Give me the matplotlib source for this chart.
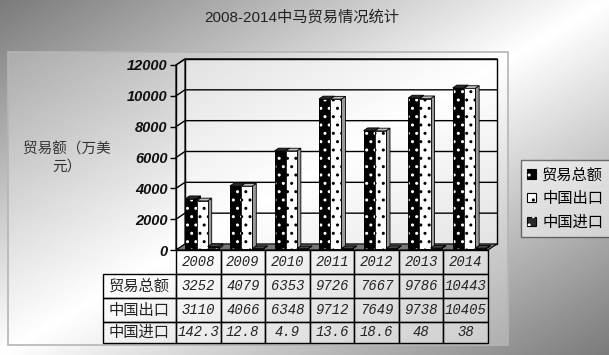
import numpy as np
import matplotlib
matplotlib.use('Agg')
import matplotlib.pyplot as plt
from matplotlib.patches import Rectangle, Polygon, Patch
import matplotlib.transforms as mtransforms
from matplotlib.legend_handler import HandlerTuple

# ---------------- data ----------------
years = ['2008', '2009', '2010', '2011', '2012', '2013', '2014']
series_names = ['贸易总额', '中国出口', '中国进口']
total = [3252, 4079, 6353, 9726, 7667, 9786, 10443]
export = [3110, 4066, 6348, 9712, 7649, 9738, 10405]
imports = [142.3, 12.8, 4.9, 13.6, 18.6, 48, 38]
yticks = [0, 2000, 4000, 6000, 8000, 10000, 12000]
title = '2008-2014中马贸易情况统计'
ylabel = '贸易额（万美\n元）'

CJK = ['Noto Sans CJK SC', 'DejaVu Sans']
plt.rcParams['font.family'] = CJK

W, H = 609, 355
fig = plt.figure(figsize=(W / 100, H / 100), dpi=100)


def fx(x):
    return x / W


def fy(y):
    return 1 - y / H


# ---------------- background gradient ----------------
bg = fig.add_axes([0, 0, 1, 1], zorder=-10)
xx, yy = np.meshgrid(np.linspace(0, 1, W), np.linspace(0, 1, H))
u = xx + yy - 1
g = 1 - 0.52 * np.abs(u)
bg.imshow(g, cmap='gray', vmin=0, vmax=1, extent=[0, W, H, 0],
          aspect='auto', interpolation='bilinear')
bg.set_xlim(0, W)
bg.set_ylim(H, 0)
bg.axis('off')
bg.add_patch(Rectangle((7.5, 51.5), 500, 293, facecolor=(1, 1, 1, 0.25),
                       edgecolor='#b5b5b5', lw=1.2))

# ---------------- main axes ----------------
ax = fig.add_axes([fx(176), fy(250), fx(488) - fx(176), fy(65) - fy(250)])
n = len(years)
ymax = yticks[-1]
ax.set_xlim(-0.5, n - 0.5)
ax.set_ylim(0, ymax)
ax.patch.set_visible(False)
for s in ['top', 'right', 'bottom']:
    ax.spines[s].set_visible(False)
ax.spines['left'].set_color('black')
ax.spines['left'].set_linewidth(1)
ax.set_xticks([])
ax.set_yticks(yticks)
ax.tick_params(axis='y', direction='out', length=4, width=1, pad=2)
for lab in ax.get_yticklabels():
    lab.set_fontfamily('Liberation Sans')
    lab.set_fontweight('bold')
    lab.set_fontstyle('italic')
    lab.set_fontsize(10.5)
    lab.set_color('#111111')

DX = 9 / 44.57          # depth in category units
DY = 6 * ymax / 185.0   # depth in value units

# walls
ax.add_patch(Polygon([(-0.5 + DX, DY), (n - 0.5 + DX, DY), (n - 0.5 + DX, ymax + DY),
                      (-0.5 + DX, ymax + DY)], closed=True, facecolor=(1, 1, 1, 0.45),
                     edgecolor='black', lw=1, clip_on=False, zorder=1))
ax.add_patch(Polygon([(-0.5, 0), (-0.5 + DX, DY), (-0.5 + DX, ymax + DY), (-0.5, ymax)],
                     closed=True, facecolor=(1, 1, 1, 0.3), edgecolor='black', lw=0.8,
                     clip_on=False, zorder=1))
for v in yticks[1:]:
    ax.plot([-0.5, -0.5 + DX, n - 0.5 + DX], [v, v + DY, v + DY], color='black',
            lw=1, clip_on=False, zorder=1.5)
# floor
ax.add_patch(Polygon([(-0.5, 0), (n - 0.5, 0), (n - 0.5 + DX, DY), (-0.5 + DX, DY)],
                     closed=True, facecolor='#777777', edgecolor='black', lw=0.8,
                     clip_on=False, zorder=2))

# bars
BW = 0.25
start = -0.33
f0, f1 = 0.2, 0.65
styles = [dict(face='black', dot='white', side='#1a1a1a', top='#2a2a2a'),
          dict(face='white', dot='black', side='#999999', top='#bcbcbc'),
          dict(face='#2b2b2b', dot='white', side='#555555', top='#444444')]
series = [total, export, imports]
ddx = (f1 - f0) * DX
ddy = (f1 - f0) * DY
for i in range(n):
    for s, (vals, st) in enumerate(zip(series, styles)):
        v = vals[i]
        x0 = i + start + s * BW + f0 * DX
        y0 = f0 * DY
        ax.add_patch(Polygon([(x0 + BW, y0), (x0 + BW + ddx, y0 + ddy),
                              (x0 + BW + ddx, y0 + v + ddy), (x0 + BW, y0 + v)],
                             closed=True, fc=st['side'], ec='black', lw=0.6,
                             clip_on=False, zorder=3))
        ax.add_patch(Polygon([(x0, y0 + v), (x0 + BW, y0 + v), (x0 + BW + ddx, y0 + v + ddy),
                              (x0 + ddx, y0 + v + ddy)], closed=True, fc=st['top'],
                             ec='black', lw=0.6, clip_on=False, zorder=3))
        ax.add_patch(Rectangle((x0, y0), BW, v, fc=st['face'], ec='none',
                               clip_on=False, zorder=3))
        ax.add_patch(Rectangle((x0, y0), BW, v, fc='none', ec=st['dot'], lw=0,
                               hatch='..', clip_on=False, zorder=3))
        ax.add_patch(Rectangle((x0, y0), BW, v, fc='none', ec='black', lw=0.6,
                               clip_on=False, zorder=3))

# ---------------- data table ----------------
trans = mtransforms.blended_transform_factory(ax.transData, ax.transAxes)
row_px = [250, 274, 298, 322, 343]
row_edges = [(250 - p) / 185.0 for p in row_px]
LW = (176 - 103) / 44.57
num_font = dict(family='Liberation Mono', style='italic', size=10, color='#222222')
for i, yr in enumerate(years):
    t, b = row_edges[0], row_edges[1]
    ax.add_patch(Rectangle((i - 0.5, b), 1, t - b, transform=trans, fc=(1, 1, 1, 0.35),
                           ec='black', lw=1, clip_on=False, zorder=4))
    ax.text(i, (t + b) / 2, yr, transform=trans, ha='center', va='center',
            clip_on=False, zorder=5, **num_font)
for r, (name, vals) in enumerate(zip(series_names, series)):
    t, b = row_edges[r + 1], row_edges[r + 2]
    ax.add_patch(Rectangle((-0.5 - LW, b), LW, t - b, transform=trans, fc=(1, 1, 1, 0.2),
                           ec='black', lw=1, clip_on=False, zorder=4))
    ax.text(-0.5 - LW / 2, (t + b) / 2, name, transform=trans, ha='center', va='center',
            family=CJK, size=11, color='#222222', clip_on=False, zorder=5)
    for i, v in enumerate(vals):
        ax.add_patch(Rectangle((i - 0.5, b), 1, t - b, transform=trans, fc=(1, 1, 1, 0.35),
                               ec='black', lw=1, clip_on=False, zorder=4))
        ax.text(i, (t + b) / 2, f'{v:g}', transform=trans, ha='center', va='center',
                clip_on=False, zorder=5, **num_font)

# ---------------- legend ----------------
handles = []
for st in styles:
    handles.append((Patch(fc=st['face'], ec='black', lw=0.8),
                    Patch(fc='none', ec=st['dot'], lw=0, hatch='..')))
leg = fig.legend(handles, series_names, handler_map={tuple: HandlerTuple(ndivide=1)},
                 loc='upper left', bbox_to_anchor=(fx(521), fy(160)),
                 prop=dict(family=CJK, size=11), frameon=True, fancybox=False,
                 handlelength=0.6, handleheight=0.6, handletextpad=0.4,
                 labelspacing=0.45, borderpad=0.4, borderaxespad=0)
leg.get_frame().set_edgecolor('black')
leg.get_frame().set_linewidth(1)
leg.get_frame().set_facecolor('white')
leg.get_frame().set_alpha(0.5)

# ---------------- titles ----------------
fig.text(fx(302), fy(17), title, ha='center', va='center', fontsize=11,
         family=['Liberation Sans', 'Noto Sans CJK SC'], color='#222222')
fig.text(fx(67), fy(158), ylabel, ha='center', va='center', multialignment='center',
         fontsize=10.5, family=CJK, color='#333333', linespacing=1.2)

fig.savefig('out.png', dpi=100)
